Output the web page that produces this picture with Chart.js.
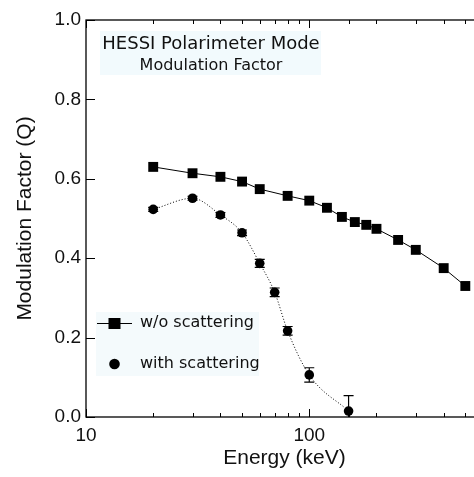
<!DOCTYPE html>
<html lang="en">
<head>
    <meta charset="UTF-8">
    <title>HESSI Polarimeter Mode - Modulation Factor</title>
    <style>
        body {
            margin: 0;
            overflow: hidden;
            background: #fff;
        }
        #wrap {
            width: 490px;
            height: 477px;
        }
    </style>
</head>
<body>

<div id="wrap">
    <canvas id="modChart" width="490" height="477"></canvas>
</div>

<script src="https://cdn.jsdelivr.net/npm/chart.js"></script>
<script>
    // values
    const energyNoScat = [20, 30, 40, 50, 60, 80, 100, 120, 140, 160, 180, 200, 250, 300, 400, 500];
    const qNoScat = [0.630, 0.614, 0.605, 0.593, 0.574, 0.557, 0.545, 0.527, 0.504, 0.491, 0.484, 0.474, 0.446, 0.421, 0.375, 0.330];

    const energyScat = [20, 30, 40, 50, 60, 70, 80, 100, 150];
    const qScat = [0.523, 0.551, 0.509, 0.464, 0.387, 0.314, 0.217, 0.106, 0.015];
    const errScat = [0.005, 0.005, 0.006, 0.007, 0.010, 0.011, 0.011, 0.018, 0.039];

    const yTicks = [0, 0.2, 0.4, 0.6, 0.8, 1.0];
    const xLabels = [10, 100, 1000];

    const seriesNames = ['w/o scattering', 'with scattering'];
    const titleLines = ['HESSI Polarimeter Mode', 'Modulation Factor'];

    const FONT = "'Liberation Sans', Arial, sans-serif";
    const BOX_FONT = "'DejaVu Sans', sans-serif";

    function toPoints(xs, ys) {
        return xs.map((x, i) => ({ x: x, y: ys[i] }));
    }

    // frame + inward ticks, like the original plot
    const framePlugin = {
        id: 'frame',
        afterDatasetsDraw(chart) {
            const ctx = chart.ctx;
            const a = chart.chartArea;
            const xs = chart.scales.x;
            const ys = chart.scales.y;
            ctx.save();
            ctx.strokeStyle = '#000';
            ctx.lineWidth = 1.3;
            ctx.strokeRect(a.left, a.top, a.right - a.left, a.bottom - a.top);

            ctx.lineWidth = 1;
            ctx.beginPath();
            yTicks.forEach(v => {
                const py = Math.round(ys.getPixelForValue(v)) + 0.5;
                ctx.moveTo(a.left, py); ctx.lineTo(a.left + 9, py);
                ctx.moveTo(a.right, py); ctx.lineTo(a.right - 9, py);
            });
            xs.ticks.forEach(t => {
                const px = Math.round(xs.getPixelForValue(t.value)) + 0.5;
                const major = Math.abs(Math.log10(t.value) % 1) < 1e-6;
                const len = major ? 8 : 4;
                ctx.moveTo(px, a.top); ctx.lineTo(px, a.top + len);
                ctx.moveTo(px, a.bottom); ctx.lineTo(px, a.bottom - len);
            });
            ctx.stroke();
            ctx.restore();
        }
    };

    const errorBarPlugin = {
        id: 'errorBars',
        beforeDatasetsDraw(chart) {
            const ctx = chart.ctx;
            const a = chart.chartArea;
            const xs = chart.scales.x;
            const ys = chart.scales.y;
            ctx.save();
            ctx.beginPath();
            ctx.rect(a.left, a.top, a.right - a.left, a.bottom - a.top);
            ctx.clip();
            ctx.strokeStyle = '#000';
            ctx.lineWidth = 1.2;
            ctx.beginPath();
            energyScat.forEach((e, i) => {
                const px = xs.getPixelForValue(e);
                const top = ys.getPixelForValue(qScat[i] + errScat[i]);
                const bot = ys.getPixelForValue(qScat[i] - errScat[i]);
                ctx.moveTo(px, top); ctx.lineTo(px, bot);
                ctx.moveTo(px - 5, top); ctx.lineTo(px + 5, top);
                ctx.moveTo(px - 5, bot); ctx.lineTo(px + 5, bot);
            });
            ctx.stroke();
            ctx.restore();
        }
    };

    const boxesPlugin = {
        id: 'boxes',
        afterDraw(chart) {
            const ctx = chart.ctx;
            ctx.save();

            // title box
            ctx.fillStyle = '#f2fafd';
            ctx.fillRect(100, 31, 221, 44);
            ctx.fillStyle = '#111';
            ctx.textBaseline = 'middle';
            ctx.textAlign = 'center';
            ctx.font = '18px ' + BOX_FONT;
            ctx.fillText(titleLines[0], 211, 44);
            ctx.font = '16px ' + BOX_FONT;
            ctx.fillText(titleLines[1], 211, 66);

            // legend box
            ctx.fillStyle = '#f4fafc';
            ctx.fillRect(96, 312, 163, 64);
            ctx.strokeStyle = '#000';
            ctx.fillStyle = '#000';
            ctx.lineWidth = 1;
            ctx.beginPath();
            ctx.moveTo(97, 323.5); ctx.lineTo(132, 323.5);
            ctx.stroke();
            ctx.fillRect(108.5, 318, 12, 11);
            ctx.beginPath();
            ctx.arc(114.5, 364, 5.3, 0, Math.PI * 2);
            ctx.fill();

            ctx.fillStyle = '#111';
            ctx.textAlign = 'left';
            ctx.font = '16px ' + BOX_FONT;
            ctx.fillText(seriesNames[0], 140, 323);
            ctx.fillText(seriesNames[1], 140, 364);
            ctx.restore();
        }
    };

    const ctx = document.getElementById('modChart').getContext('2d');
    new Chart(ctx, {
        type: 'scatter',
        data: {
            datasets: [
                {
                    label: seriesNames[0],
                    data: toPoints(energyNoScat, qNoScat),
                    showLine: true,
                    borderColor: '#000',
                    borderWidth: 1,
                    backgroundColor: '#000',
                    pointStyle: 'rect',
                    pointRadius: 7,
                    pointBorderWidth: 0
                },
                {
                    label: seriesNames[1],
                    data: toPoints(energyScat, qScat),
                    showLine: true,
                    borderColor: '#000',
                    borderWidth: 1,
                    borderDash: [1, 2],
                    cubicInterpolationMode: 'monotone',
                    backgroundColor: '#000',
                    pointStyle: 'circle',
                    pointRadius: 4.8,
                    pointBorderWidth: 0
                }
            ]
        },
        options: {
            responsive: false,
            animation: false,
            layout: { padding: { top: 20, right: 6, left: 0, bottom: 0 } },
            plugins: {
                legend: { display: false },
                tooltip: { enabled: false }
            },
            scales: {
                x: {
                    type: 'logarithmic',
                    min: 10,
                    max: 600,
                    afterFit: s => { s.height = 60; },
                    grid: { display: false, drawTicks: false },
                    border: { display: false },
                    ticks: {
                        autoSkip: false,
                        maxRotation: 0,
                        padding: 7,
                        color: '#111',
                        font: { family: FONT, size: 19 },
                        callback: v => xLabels.includes(v) ? String(v) : ''
                    },
                    title: {
                        display: true,
                        text: 'Energy (keV)',
                        color: '#111',
                        font: { family: FONT, size: 21 },
                        padding: { top: 0, bottom: 6 }
                    }
                },
                y: {
                    min: 0,
                    max: 1,
                    afterFit: s => { s.width = 86; },
                    afterBuildTicks: s => { s.ticks = yTicks.map(v => ({ value: v })); },
                    grid: { display: false, drawTicks: false },
                    border: { display: false },
                    ticks: {
                        padding: 5,
                        color: '#111',
                        font: { family: FONT, size: 19 },
                        callback: v => v.toFixed(1)
                    },
                    title: {
                        display: true,
                        text: 'Modulation Factor (Q)',
                        color: '#111',
                        font: { family: FONT, size: 21 },
                        padding: { top: 13, bottom: 0 }
                    }
                }
            }
        },
        plugins: [errorBarPlugin, framePlugin, boxesPlugin]
    });
</script>

</body>
</html>
